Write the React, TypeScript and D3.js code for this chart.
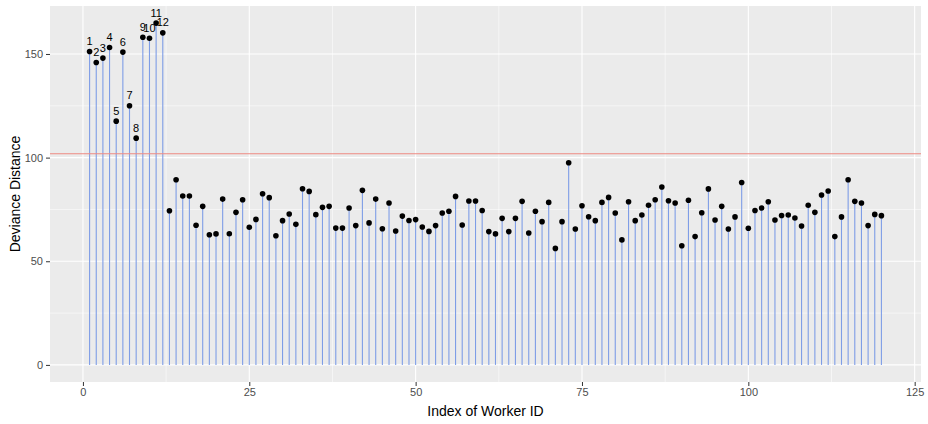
import * as d3 from "d3";
import { useEffect, useRef } from "react";

// deviance distance per worker (index 1..120)
const deviance = [
  151.2, 145.9, 148.0, 153.1, 117.6, 150.9, 125.0, 109.4, 158.1, 157.6,
  164.9, 160.2, 74.4, 89.3, 81.5, 81.5, 67.4, 76.5, 62.8, 63.2,
  80.0, 63.3, 73.6, 79.7, 66.4, 70.2, 82.6, 80.7, 62.3, 69.6,
  72.8, 67.8, 85.0, 83.7, 72.5, 76.0, 76.5, 66.0, 66.0, 75.7,
  67.2, 84.2, 68.5, 80.0, 65.7, 78.1, 64.6, 71.8, 69.7, 70.1,
  66.5, 64.4, 67.2, 73.3, 74.1, 81.3, 67.5, 79.1, 79.1, 74.5,
  64.3, 63.2, 70.7, 64.3, 70.7, 78.9, 63.6, 74.1, 69.1, 78.4,
  56.2, 69.1, 97.5, 65.6, 76.8, 71.5, 69.6, 78.4, 80.8, 73.3,
  60.3, 78.7, 69.6, 72.3, 77.0, 79.7, 85.8, 79.2, 78.1, 57.5,
  79.4, 61.9, 73.4, 84.9, 69.9, 76.5, 65.6, 71.4, 88.0, 65.9,
  74.5, 75.7, 78.7, 69.9, 72.1, 72.3, 70.9, 67.0, 77.0, 73.6,
  82.0, 83.9, 61.9, 71.4, 89.3, 78.9, 78.1, 67.2, 72.6, 72.0,
];
const outlierIds = [1, 2, 3, 4, 5, 6, 7, 8, 9, 10, 11, 12];
const cutoff = 101.9;
const xTicks = [0, 25, 50, 75, 100, 125];
const yTicks = [0, 50, 100, 150];

const width = 928;
const height = 424;
const margin = { top: 6, right: 7, bottom: 42, left: 50 };

export default function App() {
  const svgRef = useRef(null);

  useEffect(() => {
    const svg = d3.select(svgRef.current);
    svg.selectAll("*").remove();

    const data = deviance.map((v, i) => ({ id: i + 1, v }));

    // ggplot-style 5% expansion
    const xExt = [1, data.length];
    const xPad = (xExt[1] - xExt[0]) * 0.05;
    const yExt = [0, d3.max(deviance)];
    const yPad = (yExt[1] - yExt[0]) * 0.05;

    const x = d3
      .scaleLinear()
      .domain([xExt[0] - xPad, xExt[1] + xPad])
      .range([margin.left, width - margin.right]);
    const y = d3
      .scaleLinear()
      .domain([yExt[0] - yPad, yExt[1] + yPad])
      .range([height - margin.bottom, margin.top]);

    const font = "'Liberation Sans', Arial, sans-serif";

    // panel
    svg
      .append("rect")
      .attr("x", margin.left)
      .attr("y", margin.top)
      .attr("width", width - margin.left - margin.right)
      .attr("height", height - margin.top - margin.bottom)
      .attr("fill", "#EBEBEB");

    const grid = svg.append("g");
    const xMinor = xTicks.slice(0, -1).map((t) => t + 12.5);
    const yMinor = yTicks.map((t) => t + 25);
    grid
      .selectAll(".xminor")
      .data(xMinor)
      .join("line")
      .attr("x1", (d) => x(d))
      .attr("x2", (d) => x(d))
      .attr("y1", margin.top)
      .attr("y2", height - margin.bottom)
      .attr("stroke", "white")
      .attr("stroke-width", 0.55);
    grid
      .selectAll(".yminor")
      .data(yMinor)
      .join("line")
      .attr("x1", margin.left)
      .attr("x2", width - margin.right)
      .attr("y1", (d) => y(d))
      .attr("y2", (d) => y(d))
      .attr("stroke", "white")
      .attr("stroke-width", 0.55);
    grid
      .selectAll(".xmajor")
      .data(xTicks)
      .join("line")
      .attr("x1", (d) => x(d))
      .attr("x2", (d) => x(d))
      .attr("y1", margin.top)
      .attr("y2", height - margin.bottom)
      .attr("stroke", "white")
      .attr("stroke-width", 1.1);
    svg
      .append("g")
      .selectAll("line")
      .data(yTicks)
      .join("line")
      .attr("x1", margin.left)
      .attr("x2", width - margin.right)
      .attr("y1", (d) => y(d))
      .attr("y2", (d) => y(d))
      .attr("stroke", "white")
      .attr("stroke-width", 1.1);

    // lollipop stems
    svg
      .append("g")
      .selectAll("line")
      .data(data)
      .join("line")
      .attr("x1", (d) => x(d.id))
      .attr("x2", (d) => x(d.id))
      .attr("y1", y(0))
      .attr("y2", (d) => y(d.v))
      .attr("stroke", "#7E9DE6")
      .attr("stroke-width", 1.1);

    // cutoff line
    svg
      .append("line")
      .attr("x1", margin.left)
      .attr("x2", width - margin.right)
      .attr("y1", y(cutoff))
      .attr("y2", y(cutoff))
      .attr("stroke", "#EE8A82")
      .attr("stroke-width", 1.1);

    svg
      .append("g")
      .selectAll("circle")
      .data(data)
      .join("circle")
      .attr("cx", (d) => x(d.id))
      .attr("cy", (d) => y(d.v))
      .attr("r", 2.8)
      .attr("fill", "black");

    svg
      .append("g")
      .selectAll("text")
      .data(data.filter((d) => outlierIds.includes(d.id)))
      .join("text")
      .attr("x", (d) => x(d.id))
      .attr("y", (d) => y(d.v) - 6.5)
      .attr("text-anchor", "middle")
      .attr("font-family", font)
      .attr("font-size", 11)
      .attr("fill", "black")
      .text((d) => d.id);

    // axes
    const xAxis = d3.axisBottom(x).tickValues(xTicks).tickSize(4).tickPadding(2);
    const gx = svg
      .append("g")
      .attr("transform", `translate(0, ${height - margin.bottom})`)
      .call(xAxis);
    const yAxis = d3.axisLeft(y).tickValues(yTicks).tickSize(4).tickPadding(3);
    const gy = svg
      .append("g")
      .attr("transform", `translate(${margin.left}, 0)`)
      .call(yAxis);
    [gx, gy].forEach((g) => {
      g.select(".domain").remove();
      g.selectAll(".tick line").attr("stroke", "#333333").attr("stroke-width", 1);
      g.selectAll(".tick text")
        .attr("fill", "#4D4D4D")
        .attr("font-family", font)
        .attr("font-size", 11);
    });

    svg
      .append("text")
      .attr("x", (margin.left + width - margin.right) / 2)
      .attr("y", height - 8)
      .attr("text-anchor", "middle")
      .attr("font-family", font)
      .attr("font-size", 14)
      .attr("fill", "black")
      .text("Index of Worker ID");

    svg
      .append("text")
      .attr(
        "transform",
        `translate(20, ${(margin.top + height - margin.bottom) / 2}) rotate(-90)`
      )
      .attr("text-anchor", "middle")
      .attr("font-family", font)
      .attr("font-size", 14)
      .attr("fill", "black")
      .text("Deviance Distance");
  }, []);

  return (
    <svg
      ref={svgRef}
      width={width}
      height={height}
      style={{ position: "absolute", left: 0, top: 0, background: "white" }}
    />
  );
}
